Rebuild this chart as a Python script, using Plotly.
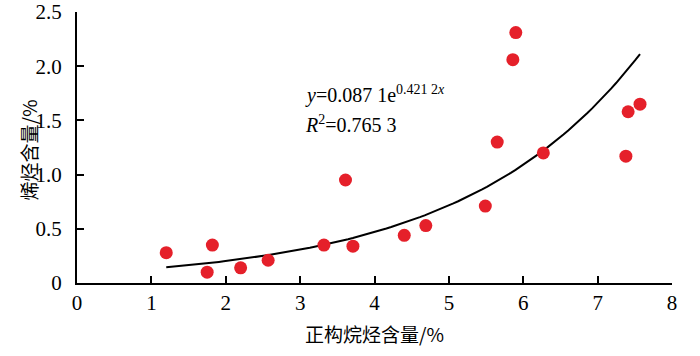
import numpy as np
import plotly.graph_objects as go

# Data
x_vals = [1.20, 1.75, 1.82, 2.20, 2.57, 3.32, 3.61, 3.71, 4.40, 4.69,
          5.49, 5.65, 5.86, 5.90, 6.27, 7.38, 7.41, 7.57]
y_vals = [0.28, 0.10, 0.35, 0.14, 0.21, 0.35, 0.95, 0.34, 0.44, 0.53,
          0.71, 1.30, 2.06, 2.31, 1.20, 1.17, 1.58, 1.65]

# Trendline from the equation shown on the chart
fit_a = 0.0871
fit_b = 0.4212
fit_x = np.linspace(min(x_vals), max(x_vals), 100)
fit_y = fit_a * np.exp(fit_b * fit_x)

x_ticks = [0, 1, 2, 3, 4, 5, 6, 7, 8]
y_ticks = [0, 0.5, 1.0, 1.5, 2.0, 2.5]
y_tick_text = ["0", "0.5", "1.0", "1.5", "2.0", "2.5"]

FONT = "Liberation Serif"
CJK = "Noto Sans CJK SC"

fig = go.Figure()
fig.add_trace(go.Scatter(x=fit_x, y=fit_y, mode="lines",
                         line=dict(color="black", width=2), showlegend=False,
                         hoverinfo="skip"))
fig.add_trace(go.Scatter(x=x_vals, y=y_vals, mode="markers",
                         marker=dict(color="#e5202a", size=13, line=dict(width=0)),
                         showlegend=False))

fig.add_annotation(x=3.04, y=1.735, xref="x", yref="y", xanchor="left", yanchor="middle",
                   showarrow=False,
                   text="<i>y</i>=0.087 1e<sup>0.421 2<i>x</i></sup>",
                   font=dict(family=FONT, size=20, color="black"))
fig.add_annotation(x=3.04, y=1.465, xref="x", yref="y", xanchor="left", yanchor="middle",
                   showarrow=False,
                   text="<i>R</i><sup>2</sup>=0.765 3",
                   font=dict(family=FONT, size=20, color="black"))

# Axis titles
fig.add_annotation(x=0.5, y=-0.185, xref="paper", yref="paper", showarrow=False,
                   xanchor="center", yanchor="middle",
                   text="正构烷烃含量/%", font=dict(family=CJK, size=19, color="black"))
fig.add_annotation(x=-0.082, y=0.49, xref="paper", yref="paper", showarrow=False,
                   xanchor="center", yanchor="middle", textangle=-90,
                   text="烯烃含量/%", font=dict(family=CJK, size=19, color="black"))

fig.update_layout(
    width=700, height=356,
    margin=dict(l=77, r=28, t=12, b=73),
    paper_bgcolor="white", plot_bgcolor="white",
    font=dict(family=FONT, size=20, color="black"),
    xaxis=dict(range=[0, 8], tickvals=x_ticks, ticks="inside", ticklen=7,
               tickwidth=1.5, tickcolor="black", showline=True, linecolor="black",
               linewidth=2, showgrid=False, zeroline=False, automargin=False,
               ticklabelstandoff=0, tickfont=dict(family=FONT, size=21)),
    yaxis=dict(range=[0, 2.5], tickvals=y_ticks, ticktext=y_tick_text,
               ticks="inside", ticklen=7, tickwidth=1.5, tickcolor="black",
               showline=True, linecolor="black", linewidth=2, showgrid=False,
               zeroline=False, automargin=False, ticklabelstandoff=9,
               tickfont=dict(family=FONT, size=21)),
)

fig.write_html("out.html", config={"displayModeBar": False},
               post_script="document.body.style.margin='0px';document.body.style.overflow='hidden';")
